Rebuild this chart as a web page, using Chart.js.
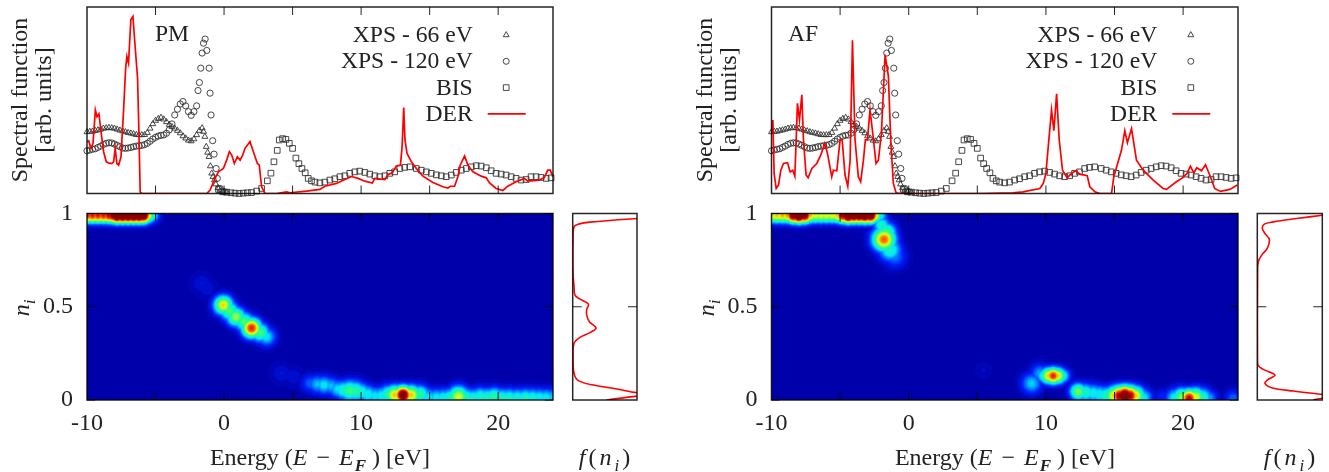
<!DOCTYPE html>
<html>
<head>
<meta charset="utf-8">
<title>Spectral function PM / AF</title>
<script src="https://cdn.jsdelivr.net/npm/chart.js@4/dist/chart.umd.js"></script>
<style>
  body { margin: 0; width: 1329px; height: 472px; overflow: hidden; background: #fff; position: relative; }
  canvas { position: absolute; left: 0; top: 0; }
  .t { position: absolute; white-space: nowrap; font: 24px 'Liberation Serif', serif; color: #222; transform: translate(-50%, -50%); }
  .v { transform: translate(-50%, -50%) rotate(-90deg); }
  .s { font-size: 17px; position: relative; top: 6px; }
  .m { letter-spacing: 3px; }
  .o { margin: 0 9px; }
</style>
</head>
<body>
<canvas id="pmTop"></canvas><canvas id="pmHeat"></canvas><canvas id="pmSide"></canvas>
<canvas id="afTop"></canvas><canvas id="afHeat"></canvas><canvas id="afSide"></canvas>

<div class="t v" style="left:19px;top:100px">Spectral function</div>
<div class="t v" style="left:43px;top:100px">[arb. units]</div>
<div class="t v" style="left:21px;top:308px"><i>n<span class="s">i</span></i></div>
<div class="t" style="left:320px;top:457px">Energy&nbsp;(<i>E</i><span class="o">−</span><i>E<span class="s" style="margin-left:1px"><b>F</b></span></i>&nbsp;) [eV]</div>
<div class="t m" style="left:606px;top:457px"><i>f</i>(<i>n<span class="s">i</span></i>)</div>

<div class="t v" style="left:704px;top:100px">Spectral function</div>
<div class="t v" style="left:728px;top:100px">[arb. units]</div>
<div class="t v" style="left:706px;top:308px"><i>n<span class="s">i</span></i></div>
<div class="t" style="left:1005px;top:457px">Energy&nbsp;(<i>E</i><span class="o">−</span><i>E<span class="s" style="margin-left:1px"><b>F</b></span></i>&nbsp;) [eV]</div>
<div class="t m" style="left:1291px;top:457px"><i>f</i>(<i>n<span class="s">i</span></i>)</div>

<script>
// experimental curves, the same in both columns
const xps66E = [-10,-9.8,-9.6,-9.4,-9.2,-9,-8.8,-8.6,-8.4,-8.2,-8,-7.8,-7.6,-7.4,-7.2,-7,-6.8,-6.6,-6.4,-6.2,-6,-5.8,-5.6,-5.4,-5.2,-5,-4.8,-4.6,-4.4,-4.2,-4,-3.8,-3.6,-3.4,-3.2,-3,-2.8,-2.6,-2.4,-2.2,-2,-1.8,-1.6,-1.5,-1.4,-1.3,-1.2,-1.1,-1,-0.9,-0.8,-0.7,-0.6,-0.45,-0.3,-0.1,0.2];
const xps66 = [33,33.2,33.3,33.7,34,34.4,34.9,35.1,35.3,35.1,34.9,34.4,33.9,33.5,33,32.6,32.3,31.9,31.5,31.4,31.4,31.5,32.6,34.9,37.3,39.1,40.1,40.7,39.8,38.4,36.9,35.8,34.9,33.7,32.4,30.8,29.6,28.5,28.1,29.2,31.4,33.7,35.1,33.2,30.5,25.1,22,19.7,14.7,10.8,9,7.2,5,3,1.4,1,0.7];

const xps120E = [-10,-9.8,-9.6,-9.4,-9.2,-9,-8.8,-8.6,-8.4,-8.2,-8,-7.8,-7.6,-7.4,-7.2,-7,-6.8,-6.6,-6.4,-6.2,-6,-5.8,-5.6,-5.4,-5.2,-5,-4.8,-4.6,-4.4,-4.2,-4,-3.8,-3.6,-3.4,-3.2,-3,-2.8,-2.6,-2.4,-2.2,-2,-1.9,-1.8,-1.7,-1.6,-1.5,-1.38,-1.26,-1.09,-1.02,-0.95,-0.83,-0.73,-0.58,-0.49,-0.29,0];
const xps120 = [22.9,23.3,23.7,24,24.7,25.4,26.3,26.9,27.2,27.1,26.5,25.8,25.1,24.4,24.2,24.4,24.7,25.1,25.4,25.6,25.8,26.2,26.9,28,29.2,30.1,30.8,31.2,31.4,32.3,34.1,37.3,42.1,45.2,48,49.3,47,43.9,41.9,43.9,47,55.2,59.5,67.2,75.3,80.6,82.8,76.7,67.2,53.8,42.1,28.3,21.1,13.4,8.1,2.7,0.9];

const bisE = [-0.4,-0.1,0.2,0.5,0.8,1.1,1.4,1.7,2,2.38,2.74,3.16,3.42,3.64,3.88,4.03,4.27,4.51,4.76,5,5.24,5.46,5.68,5.92,6.14,6.38,6.63,6.99,7.35,7.72,8.08,8.45,8.81,9.17,9.54,9.9,10.27,10.63,11,11.36,11.73,12.09,12.45,12.82,13.18,13.55,14.03,14.39,14.76,15.12,15.49,15.85,16.21,16.58,16.94,17.31,17.67,18.04,18.4,18.76,19.13,19.49,19.85,20.22,20.58,20.95,21.31,21.67,22.04,22.4,22.77,23.13,23.5,23.86];
const bis = [2.2,0.9,0.7,0.4,0.2,0,0.2,0.4,0.5,1.3,2.7,6.8,10.9,17,23.1,28.7,29.4,29,26.9,24.2,19,16,13.4,11.1,8.1,6.8,6.1,5.7,6.1,7.2,7.9,9,9.5,10.8,11.6,12,11.3,10.4,9.5,9,9.5,10.8,11.6,13.4,14,14.3,13.4,12.5,11.6,10.8,10,9.5,9,9.9,11.3,12.5,13.4,14.3,14.9,14.7,13.8,12.2,10.8,10.4,9.9,9,8.1,7.2,7.5,9,9,8.6,8.1,8.4];

// DER spectral functions
const pmDerE = [-10,-9.88,-9.71,-9.56,-9.39,-9.27,-9.13,-8.96,-8.79,-8.59,-8.35,-8.18,-8.06,-7.94,-7.82,-7.69,-7.52,-7.33,-7.18,-7.09,-6.97,-6.8,-6.65,-6.48,-6.31,-6.21,-6.12,-6,-1.26,-1.02,-0.66,-0.41,-0.05,0.19,0.39,0.56,0.75,0.97,1.17,1.36,1.53,1.89,2.14,2.43,2.57,2.74,2.99,3.83,4.56,4.81,6.02,6.99,7.35,8.2,8.81,9.3,9.78,10.27,10.82,10.99,11.73,11.97,12.28,12.57,12.87,12.99,13.11,13.2,13.35,13.67,14.03,14.51,15.24,15.97,16.33,16.5,16.82,17.06,17.23,17.55,17.79,18.16,18.76,19.13,19.37,19.85,20.34,20.7,21.31,21.92,22.16,23.01,23.37,23.62,23.81,23.98];
const pmDer = [27.8,28.3,24.2,26.9,44.8,41.2,42.7,32.3,22.4,17,16.1,16.1,17,24.2,16.1,15.2,19.7,44.8,67.2,73.5,69.9,93.2,95,78,61.8,32.3,0.9,0,0,1.8,8.1,11.6,13.4,17.9,22.4,20.6,16.1,19.7,17.9,20.6,24.2,27.8,22.4,16.1,15.2,3.6,0,0,0.9,0.4,1.3,2.2,3.9,5.4,7.5,9.1,8.1,6.6,5.6,8.1,7.5,10.2,11.1,14.7,15.2,25.1,46.1,28.7,21.5,17,13.4,9.3,5.9,3.6,2.9,3.9,3.9,9,15.2,20.1,15.2,11.6,9.3,8.4,5.7,2.7,1.6,3.9,6.3,8.1,6.6,7.2,8.6,12.5,12.5,9];

const afDerE = [-10,-9.9,-9.81,-9.66,-9.49,-9.32,-9.13,-8.83,-8.64,-8.45,-8.3,-8.2,-8.11,-7.96,-7.79,-7.67,-7.48,-7.33,-7.06,-6.7,-6.41,-6.12,-5.92,-5.61,-5.49,-5.24,-5,-4.85,-4.64,-4.44,-4.27,-4.1,-3.91,-3.67,-3.5,-3.3,-3.16,-3.01,-2.82,-2.62,-2.38,-2.21,-1.99,-1.72,-1.48,-1.31,-1.12,-0.92,-0.63,5.19,7.6,8.33,9.56,9.81,10,10.17,10.41,10.58,10.78,10.97,11.21,11.55,11.87,12.16,12.48,13.01,13.2,13.57,13.93,14.78,14.95,15.51,15.75,15.94,16.24,16.6,17.09,17.82,18.54,18.79,19.51,20,20.29,20.53,20.78,21,21.34,21.63,21.94,22.3,22.72,23.4,23.95];
const afDer = [32.3,39.4,10.8,2.7,4.5,12.5,16.1,16.5,11.6,12.5,9.3,28.7,48.4,39.4,52.9,28.7,9.9,8.4,13.4,16.1,20.6,26.9,21.5,9,12.5,12.2,28.7,28.7,9.9,3.9,17.9,82.1,28.7,9,6.3,17.9,28.7,28.7,44.8,32.3,16.1,17.9,32.3,74.4,62.8,28.7,5.4,0.4,0,0,0.4,0.9,2.7,5.4,10.8,25.1,44.8,33.7,53.4,28.7,12.5,8.4,10.8,12.2,10.4,9.5,3.6,0.9,0,0,9,23.3,33.7,27.2,34.8,17.9,12.5,7.2,2.7,2.2,6.3,8.6,10.8,14.7,11.1,13.8,12.2,15.4,9.9,2.7,1.1,2.2,4.5];

// occupation distribution f(n_i), values past 100 run off the panel as in the picture
const pmOccN = [1,0.985,0.973,0.954,0.943,0.929,0.857,0.679,0.607,0.5625,0.541,0.514,0.486,0.455,0.42,0.386,0.361,0.336,0.304,0.232,0.143,0.104,0.08,0.059,0.039,0.03,0.021,0];
const pmOcc = [190,160,100,26.9,8.8,2.1,0.5,0.5,2.1,3.6,11.4,24.4,21.8,21.8,25.9,36.3,26.9,11.4,2.1,0.5,2.1,8.8,32.1,68.4,100,140,100,52.8];
const afOccN = [1,0.991,0.973,0.955,0.943,0.92,0.893,0.861,0.8125,0.777,0.741,0.679,0.214,0.184,0.164,0.134,0.107,0.089,0.066,0.048,0.03,0.02,0.009,0];
const afOcc = [120,100,60.5,24.6,10.8,7.7,11.8,18.5,15.4,6.7,1.5,0.5,0.3,1.5,9.2,27.2,15.4,11.8,22,55.4,100,130,100,86];

// density map maxima: energy (eV), n_i, peak height, width (eV)
const pmHeatE = [-10,-9.6,-9.2,-8.8,-8.4,-8.1,-7.8,-7.4,-7,-6.6,-6.2,-5.9,-5.6,-5.3,-1.63,-1.26,-0.05,0.39,0.87,1.46,2.01,2.62,3.1,4.2,5.05,6.3,6.8,7.3,7.8,8.3,8.7,9.17,9.6,10,10.5,11,11.5,12,12.45,13.06,13.65,14.3,14.9,15.5,16,16.5,17.1,17.7,18.2,18.7,19.2,19.7,20.3,20.8,21.4,22,22.5,23,23.5,23.9];
const pmHeatN = [0.99,0.99,0.99,0.99,0.99,0.99,0.99,0.99,0.99,0.99,0.99,0.99,0.99,0.99,0.625,0.598,0.509,0.477,0.446,0.42,0.386,0.3625,0.339,0.143,0.125,0.09,0.085,0.08,0.075,0.06,0.054,0.05,0.048,0.042,0.03,0.022,0.022,0.03,0.027,0.027,0.027,0.03,0.015,0.012,0.012,0.012,0.018,0.012,0.012,0.018,0.015,0.018,0.012,0.012,0.012,0.012,0.012,0.012,0.012,0.012];
const pmHeatPeak = [0.9,0.9,0.9,0.9,0.95,1.05,1.3,1.3,1.3,1.3,1.3,1.2,0.7,0.42,0.08,0.07,0.68,0.5,0.58,0.5,0.88,0.5,0.33,0.08,0.07,0.2,0.28,0.33,0.28,0.32,0.4,0.48,0.44,0.4,0.36,0.33,0.36,0.45,0.7,1.15,0.7,0.45,0.34,0.34,0.36,0.42,0.62,0.42,0.38,0.4,0.4,0.44,0.4,0.4,0.38,0.4,0.38,0.36,0.34,0.3];
const pmHeatWidth = [0.4,0.4,0.4,0.4,0.4,0.4,0.4,0.4,0.4,0.4,0.4,0.4,0.4,0.4,0.55,0.55,0.5,0.5,0.5,0.5,0.5,0.5,0.5,0.55,0.55,0.5,0.5,0.5,0.5,0.5,0.5,0.55,0.55,0.5,0.5,0.5,0.5,0.5,0.5,0.45,0.5,0.5,0.5,0.5,0.5,0.5,0.55,0.5,0.5,0.5,0.5,0.5,0.5,0.5,0.5,0.5,0.5,0.5,0.5,0.5];

const afHeatE = [-10,-9.6,-9.2,-8.8,-8.4,-8,-7.6,-7.2,-6.8,-6.4,-6,-5.6,-5.2,-4.8,-4.4,-4,-3.6,-3.2,-2.8,-2.5,-2.1,-1.97,-1.6,-1.8,-1.36,-1,5.44,8.96,9.56,9.85,10.2,10.53,10.85,11.2,12.36,12.9,13.45,13.9,14.4,15,15.4,15.75,16.1,16.5,17.1,18.5,19.4,19.9,20.44,20.9,21.4,21.9,23.65];
const afHeatN = [0.99,0.99,0.99,0.99,0.99,0.99,0.99,0.99,0.99,0.99,0.99,0.99,0.99,0.99,0.99,0.99,0.99,0.99,0.99,0.99,0.99,0.9375,0.9,0.861,0.804,0.768,0.16,0.089,0.143,0.13,0.13,0.13,0.13,0.13,0.045,0.04,0.036,0.03,0.023,0.023,0.023,0.023,0.023,0.023,0.012,0.014,0.012,0.015,0.01,0.015,0.015,0.01,0.01];
const afHeatPeak = [0.7,0.7,0.72,0.75,1.1,1.3,1.1,0.72,0.65,0.65,0.65,0.65,0.7,1,1.3,1.2,1.2,1.25,1.2,0.72,0.36,0.4,0.5,0.8,0.4,0.22,0.05,0.3,0.26,0.4,0.7,0.88,0.7,0.4,0.55,0.4,0.36,0.36,0.42,0.7,1,1.2,1,0.7,0.34,0.14,0.35,0.55,0.95,0.65,0.42,0.26,0.2];
const afHeatWidth = [0.4,0.4,0.4,0.4,0.4,0.4,0.4,0.4,0.4,0.4,0.4,0.4,0.4,0.4,0.4,0.4,0.4,0.4,0.4,0.4,0.4,0.45,0.5,0.6,0.6,0.6,0.45,0.55,0.5,0.4,0.42,0.42,0.42,0.4,0.45,0.5,0.5,0.5,0.5,0.5,0.5,0.5,0.5,0.5,0.5,0.45,0.5,0.5,0.45,0.5,0.5,0.45,0.45];

const legendLabels = ['XPS - 66 eV', 'XPS - 120 eV', 'BIS', 'DER'];
const energyTicks = [-10, -5, 0, 5, 10, 15, 20];
const energyLabels = ['-10', '', '0', '', '10', '', '20'];
const occTicks = [0, 0.5, 1];
const occLabels = ['0', '0.5', '1'];

const FONT = "23.6px 'Liberation Serif', serif";
const TEXT = '#222';
const MARK = '#333';
const EV_PX = 466 / 34;
const AXIS_ROOM = 60;

const zip = (xs, ys) => xs.map((x, i) => ({ x: x, y: ys[i] }));

// jet like colours of the density map
const heatStops = [
    [0, [0, 0, 170]], [0.12, [0, 30, 255]], [0.3, [0, 230, 255]], [0.45, [40, 255, 130]],
    [0.62, [230, 255, 20]], [0.78, [255, 90, 0]], [0.9, [220, 0, 0]], [1, [120, 0, 0]]
];
function heatColor(t) {
    let i = 1;
    while (i < heatStops.length - 1 && heatStops[i][0] < t) i++;
    const [t0, c0] = heatStops[i - 1], [t1, c1] = heatStops[i];
    const f = (t - t0) / (t1 - t0);
    const c = c0.map((v, k) => Math.round(v + (c1[k] - v) * f));
    return `rgb(${c[0]},${c[1]},${c[2]})`;
}

// frame, inward ticks and background
const framePlugin = {
    id: 'frame',
    beforeDatasetsDraw(chart, args, opts) {
        if (!opts.fill) return;
        const a = chart.chartArea;
        chart.ctx.fillStyle = opts.fill;
        chart.ctx.fillRect(a.left, a.top, a.width, a.height);
    },
    afterDatasetsDraw(chart, args, opts) {
        const { ctx, chartArea: a, scales } = chart;
        ctx.save();
        ctx.strokeStyle = 'rgba(0,0,0,.85)';
        ctx.lineWidth = 1;
        ctx.beginPath();
        (opts.xTicks || []).forEach(v => {
            const x = scales.x.getPixelForValue(v);
            ctx.moveTo(x, a.top); ctx.lineTo(x, a.top + opts.len);
            ctx.moveTo(x, a.bottom); ctx.lineTo(x, a.bottom - opts.len);
        });
        (opts.yTicks || []).forEach(v => {
            const y = scales.y.getPixelForValue(v);
            ctx.moveTo(a.left, y); ctx.lineTo(a.left + opts.len, y);
            ctx.moveTo(a.right, y); ctx.lineTo(a.right - opts.len, y);
        });
        ctx.stroke();
        ctx.lineWidth = 1.5;
        ctx.strokeRect(a.left, a.top, a.width, a.height);
        ctx.restore();
    }
};

// gnuplot style key, text on the left of its sample
const keyPlugin = {
    id: 'key',
    afterDatasetsDraw(chart, args, opts) {
        if (!opts.textX) return;
        const ctx = chart.ctx;
        ctx.save();
        ctx.font = FONT;
        ctx.fillStyle = TEXT;
        ctx.textBaseline = 'alphabetic';
        ctx.textAlign = 'left';
        ctx.fillText(opts.tag, opts.tagX, 41);
        ctx.textAlign = 'right';
        const styles = ['triangle', 'circle', 'rect'];
        legendLabels.forEach((label, i) => {
            const y = 35 + i * 26.3;
            ctx.fillText(label, opts.textX, y + 7);
            if (i < 3) {
                ctx.strokeStyle = MARK;
                ctx.lineWidth = 0.9;
                ctx.fillStyle = 'rgba(0,0,0,0)';
                Chart.helpers.drawPoint(ctx, { pointStyle: styles[i], radius: [3.4, 3, 4][i], borderWidth: 0.9, rotation: 0 }, opts.textX + 33.5, y);
                ctx.fillStyle = TEXT;
            } else {
                ctx.strokeStyle = '#ff0000';
                ctx.lineWidth = 1.6;
                ctx.beginPath();
                ctx.moveTo(opts.textX + 15, y);
                ctx.lineTo(opts.textX + 53, y);
                ctx.stroke();
            }
        });
        ctx.restore();
    }
};

// room is the space kept for axis labels inside the full page canvas
function makeChart(id, type, box, datasets, xScale, yScale, plugins, room) {
    const canvas = document.getElementById(id);
    canvas.width = 1329;
    canvas.height = 472;
    return new Chart(canvas, {
        type: type,
        data: { datasets: datasets },
        plugins: [framePlugin, keyPlugin],
        options: {
            responsive: false,
            animation: false,
            events: [],
            layout: { padding: { left: box[0] - room, top: box[1], right: 1329 - box[2], bottom: 472 - box[3] - room } },
            scales: { x: xScale, y: yScale },
            plugins: Object.assign({ legend: { display: false }, tooltip: { enabled: false } }, plugins)
        }
    });
}

function hiddenAxis(min, max) {
    return { type: 'linear', display: false, min: min, max: max };
}

function energyAxis() {
    return {
        type: 'linear', min: -10, max: 24,
        grid: { display: false }, border: { display: false },
        afterFit: s => { s.height = AXIS_ROOM; },
        afterBuildTicks: s => { s.ticks = energyTicks.map(v => ({ value: v })); },
        ticks: {
            color: TEXT, padding: 1, maxRotation: 0, autoSkip: false,
            font: { family: "'Liberation Serif', serif", size: 24 },
            callback: v => energyLabels[energyTicks.indexOf(v)]
        }
    };
}

function occAxis() {
    return {
        type: 'linear', min: 0, max: 1,
        grid: { display: false }, border: { display: false },
        afterFit: s => { s.width = AXIS_ROOM; },
        afterBuildTicks: s => { s.ticks = occTicks.map(v => ({ value: v })); },
        ticks: {
            color: TEXT, padding: 6, autoSkip: false,
            font: { family: "'Liberation Serif', serif", size: 24 },
            callback: v => occLabels[occTicks.indexOf(v)]
        }
    };
}

function spectrum(id, box, der, derE, tag, tagX, textX) {
    const marker = (label, style, r, xs, ys) => ({
        label: label, data: zip(xs, ys), pointStyle: style, pointRadius: r,
        pointBorderColor: MARK, pointBorderWidth: 0.9, pointBackgroundColor: 'rgba(0,0,0,0)',
        showLine: false, clip: false
    });
    makeChart(id, 'scatter', box, [
        { label: 'DER', data: zip(derE, der), showLine: true, borderColor: '#ff0000', borderWidth: 1.7, pointRadius: 0 },
        marker('BIS', 'rect', 4, bisE, bis),
        marker('XPS - 120 eV', 'circle', 3.1, xps120E, xps120),
        marker('XPS - 66 eV', 'triangle', 3.4, xps66E, xps66)
    ], hiddenAxis(-10, 24), hiddenAxis(0, 100), {
        frame: { xTicks: [-5, 0, 5, 10, 15, 20], len: 8 },
        key: { tag: tag, tagX: tagX, textX: textX }
    }, 0);
}

// each maximum gives nested bubbles, one for every colour level
function heatmap(id, box, es, ns, peaks, widths) {
    const datasets = [];
    for (let k = 31; k >= 0; k--) {
        const level = (k + 0.5) / 32;
        const data = [];
        es.forEach((e, i) => {
            if (peaks[i] > level) {
                data.push({ x: e, y: ns[i], r: widths[i] * EV_PX * Math.sqrt(2 * Math.log(peaks[i] / level)) });
            }
        });
        datasets.push({ data: data, backgroundColor: heatColor(level), borderWidth: 0, clip: 0 });
    }
    makeChart(id, 'bubble', box, datasets, energyAxis(), occAxis(), {
        frame: { fill: heatColor(0), xTicks: [-5, 0, 5, 10, 15, 20], yTicks: [0, 0.5, 1], len: 8 }
    }, AXIS_ROOM);
}

function occupation(id, box, occ, occN) {
    makeChart(id, 'scatter', box, [
        { data: zip(occ, occN), showLine: true, borderColor: '#ff0000', borderWidth: 1.6, pointRadius: 0, tension: 0.35 }
    ], hiddenAxis(0, 100), hiddenAxis(0, 1), {
        frame: { yTicks: [0.5], len: 9 }
    }, 0);
}

spectrum('pmTop', [87, 7, 553, 193.5], pmDer, pmDerE, 'PM', 155, 472.7);
heatmap('pmHeat', [87, 213.5, 553, 400], pmHeatE, pmHeatN, pmHeatPeak, pmHeatWidth);
occupation('pmSide', [572.7, 213.5, 637, 400], pmOcc, pmOccN);

spectrum('afTop', [771.5, 7, 1238, 193.5], afDer, afDerE, 'AF', 788, 1157.3);
heatmap('afHeat', [771.5, 213.5, 1238, 400], afHeatE, afHeatN, afHeatPeak, afHeatWidth);
occupation('afSide', [1257.3, 213.5, 1322.3, 400], afOcc, afOccN);
</script>
</body>
</html>
